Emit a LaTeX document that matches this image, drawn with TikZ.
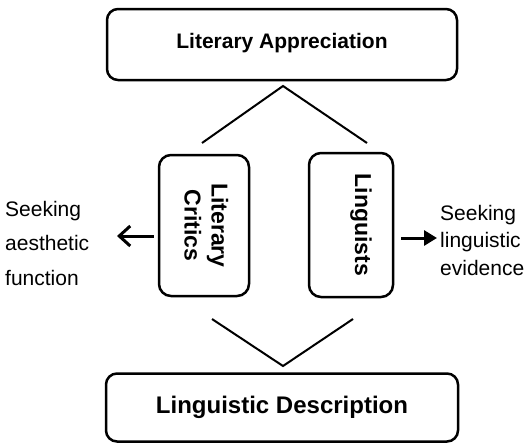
\documentclass[tikz,border=0pt]{standalone}
\usepackage{fontspec}
\setmainfont{Liberation Sans}
\usetikzlibrary{arrows.meta}
\tikzset{
  bigbox/.style={draw,line width=2.5pt,rounded corners=11pt,minimum width=350pt,font=\bfseries},
  smallbox/.style={draw,line width=2.5pt,rounded corners=12pt,font=\fontsize{23}{29}\selectfont\bfseries,align=center,inner sep=0pt},
  side/.style={align=left,inner sep=0pt,anchor=west}
}
\begin{document}
\begin{tikzpicture}[x=1pt,y=-1pt]
            \useasboundingbox (0,0) rectangle (527,442);
            \node[bigbox,minimum height=71pt,font=\fontsize{21}{25}\selectfont\bfseries] (A) at (282,44.5) {\raisebox{8pt}{Literary Appreciation}};
            \node[bigbox,minimum height=68pt,minimum width=352pt,font=\fontsize{24}{28}\selectfont\bfseries] (D) at (282,407.5) {\raisebox{4pt}{Linguistic Description}};
            \node[smallbox,minimum width=90pt,minimum height=141pt] (C) at (204,225.5) {\rotatebox{-90}{\begin{tabular}{@{}c@{}}Literary\\[-2pt]Critics\end{tabular}}};
            \node[smallbox,minimum width=84pt,minimum height=144pt] (L) at (351,225) {\hspace*{20pt}\rotatebox{-90}{Linguists}};

            \coordinate (T) at (283,86);
            \coordinate (TL) at (202,143);
            \coordinate (TR) at (367,143);
            \coordinate (B) at (283,366);
            \coordinate (BL) at (212,319);
            \coordinate (BR) at (353,319);

            \node[side,font=\fontsize{21}{34.5}\selectfont] (S) at (5,243) {Seeking\\aesthetic\\function};
            \node[side,font=\fontsize{21}{27.5}\selectfont] (E) at (440,240) {Seeking\\linguistic\\evidence};

            \draw[line width=2pt] (TL) -- (T) -- (TR);
            \draw[line width=2pt] (BL) -- (B) -- (BR);
            \draw[line width=3pt,-{Straight Barb[length=11pt,width=20pt]}] ([xshift=-4pt]C.west |- 0,236) -- (117,236);
            \draw[line width=3pt,-{Triangle[length=13pt,width=15pt]}] ([xshift=7pt]L.east |- 0,238) -- ([xshift=-3pt]E.west |- 0,238);
\end{tikzpicture}
\end{document}
